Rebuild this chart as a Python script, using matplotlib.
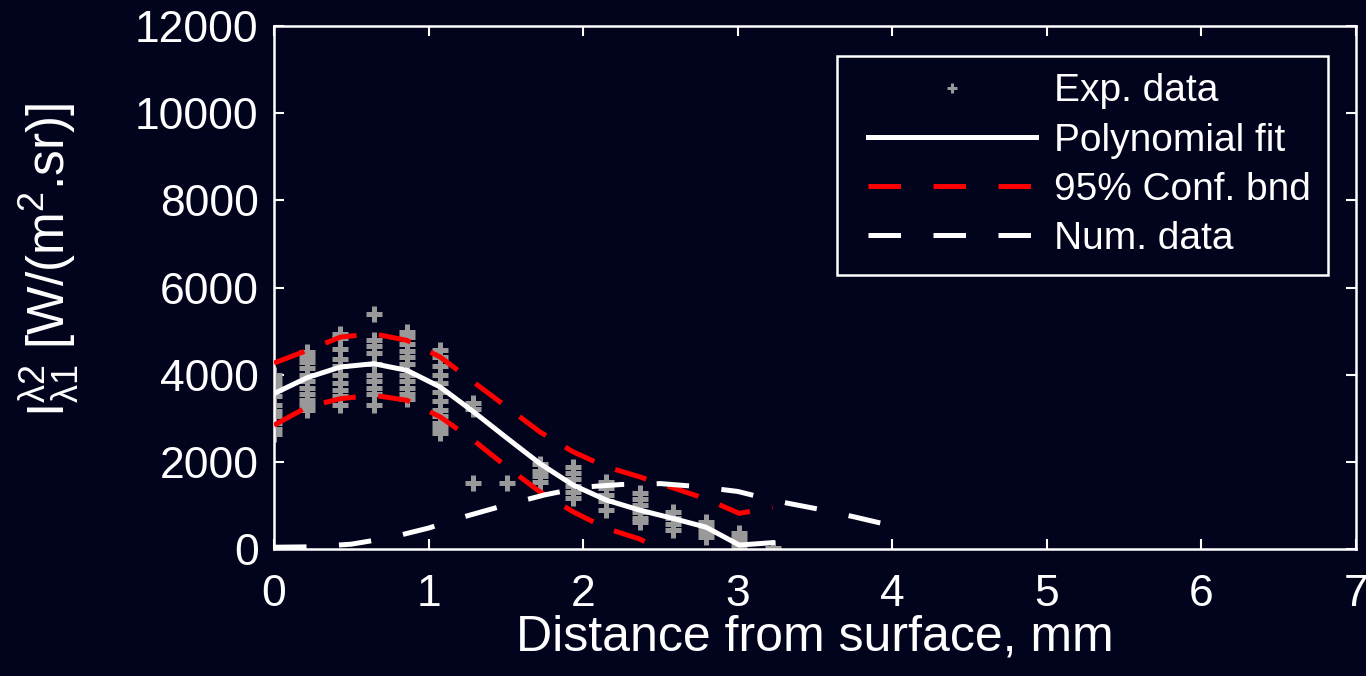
import matplotlib
matplotlib.use('Agg')
import matplotlib.pyplot as plt
from matplotlib.lines import Line2D
from matplotlib.legend_handler import HandlerLine2D

plt.rcParams['font.family'] = ['Liberation Sans', 'DejaVu Sans']
plt.rcParams['mathtext.fontset'] = 'custom'
plt.rcParams['mathtext.rm'] = 'Liberation Sans'
plt.rcParams['mathtext.it'] = 'Liberation Sans'

bg = '#02041e'

# experimental data: column positions (mm) and stacked values at each
exp_x = [0, 0.215, 0.43, 0.645, 0.86, 1.075, 1.29, 1.505,
         1.72, 1.935, 2.15, 2.365, 2.58, 2.795, 3.01, 3.225]
exp_y = [
    [3990, 3870, 3770, 3640, 3500, 3300, 3170, 3050, 2900, 2760, 2630],
    [4520, 4400, 4280, 4150, 4000, 3850, 3700, 3550, 3420, 3300, 3180],
    [4940, 4830, 4600, 4350, 4200, 4000, 3800, 3650, 3500, 3300],
    [5400, 4790, 4650, 4500, 4250, 4000, 3850, 3700, 3550, 3300],
    [4980, 4860, 4700, 4550, 4400, 4250, 4000, 3850, 3700, 3550, 3450],
    [4560, 4400, 4200, 4000, 3800, 3600, 3400, 3200, 3050, 2900, 2780, 2650],
    [3340, 3220, 1511],
    [1511],
    [1960, 1800, 1680, 1540],
    [1880, 1750, 1600, 1450, 1300, 1160],
    [1540, 1400, 1250, 1100, 900],
    [1280, 1140, 1000, 850, 720, 620],
    [850, 720, 580, 440],
    [620, 500, 380, 280],
    [360, 250, 130, 20],
    [20],
]

# polynomial fit and 95% confidence bounds at the same positions
fit_y = [3565, 3932, 4176, 4252, 4099, 3717, 3150, 2550,
         1960, 1466, 1122, 893, 702, 500, 90, 145]
upper_y = [4267, 4557, 4863, 4939, 4786, 4405, 3832, 3260,
           2687, 2229, 1885, 1656, 1404, 1150, 817, 955]
lower_y = [2840, 3259, 3450, 3527, 3412, 3030, 2496, 1885,
           1313, 854, 473, 229, -150, -400, -650, -600]

# numerical data
num_x = [0, 0.25, 0.5, 0.75, 1.0, 1.25, 1.5, 1.75, 2.0,
         2.25, 2.5, 2.75, 3.0, 3.25, 3.5, 3.75, 4.05]
num_y = [40, 50, 110, 260, 480, 760, 1010, 1240, 1420,
         1480, 1500, 1430, 1320, 1100, 930, 740, 490]


class ShiftedLine(HandlerLine2D):
    # leaves some empty room to the left of the legend handles
    def create_artists(self, legend, orig_handle, xdescent, ydescent,
                       width, height, fontsize, trans):
        shift = 0.35 * fontsize
        return super().create_artists(legend, orig_handle, xdescent - shift,
                                      ydescent, width - shift, height,
                                      fontsize, trans)


fig = plt.figure(figsize=(13.66, 6.76), dpi=100, facecolor=bg)
ax = fig.add_axes([0.2006, 0.1879, 0.7921, 0.7736], facecolor=bg)

px = []
py = []
for xv, ys in zip(exp_x, exp_y):
    for yv in ys:
        px.append(xv)
        py.append(yv)

ax.plot(px, py, '+', color='#999999', markersize=12, markeredgewidth=3.6, zorder=2)
l_fit, = ax.plot(exp_x, fit_y, '-', color='white', lw=3.6, zorder=3)
ax.plot(exp_x, upper_y, '--', color='#ff0000', lw=3.6, dashes=(6.5, 4.5), zorder=3)
ax.plot(exp_x, lower_y, '--', color='#ff0000', lw=3.6, dashes=(6.5, 4.5), zorder=3)
l_num, = ax.plot(num_x, num_y, '--', color='white', lw=3.6, dashes=(6.5, 6.5), zorder=3)

ax.set_xlim(0, 7)
ax.set_ylim(0, 12000)
ax.set_xticks(range(0, 8))
ax.set_yticks(range(0, 12001, 2000))

for s in ax.spines.values():
    s.set_color('white')
    s.set_linewidth(1.8)
ax.tick_params(direction='in', length=7, width=1.5, colors='white',
               top=True, right=True, labelsize=32)
ax.tick_params(axis='x', pad=18)
ax.tick_params(axis='y', pad=11)

ax.set_xlabel('Distance from surface, mm', color='white', fontsize=36, labelpad=0)
ax.set_ylabel(r'$\mathregular{I_{λ1}^{λ2}}$ [W/(m$^\mathregular{2}$.sr)]',
              color='white', fontsize=37)
ax.yaxis.set_label_coords(-0.178, 0.553)

# legend proxies: smaller marker, evenly dashed red line
h_exp = Line2D([], [], ls='none', marker='+', color='#999999',
               markersize=7, markeredgewidth=2.2)
h_conf = Line2D([], [], color='#ff0000', lw=3.6, dashes=(6.5, 6.5))
leg = ax.legend([h_exp, l_fit, h_conf, l_num],
                ['Exp. data', 'Polynomial fit', '95% Conf. bnd', 'Num. data'],
                loc='upper right', bbox_to_anchor=(0.974, 0.943),
                borderaxespad=0, fontsize=28, frameon=True, fancybox=False,
                handlelength=4.65, handletextpad=0.46, labelspacing=0.34,
                borderpad=0.45, handler_map={Line2D: ShiftedLine()})
leg.get_frame().set_facecolor(bg)
leg.get_frame().set_edgecolor('white')
leg.get_frame().set_linewidth(1.8)
leg.get_frame().set_alpha(1)
for t in leg.get_texts():
    t.set_color('white')

fig.savefig('out.png', dpi=100, facecolor=bg)
